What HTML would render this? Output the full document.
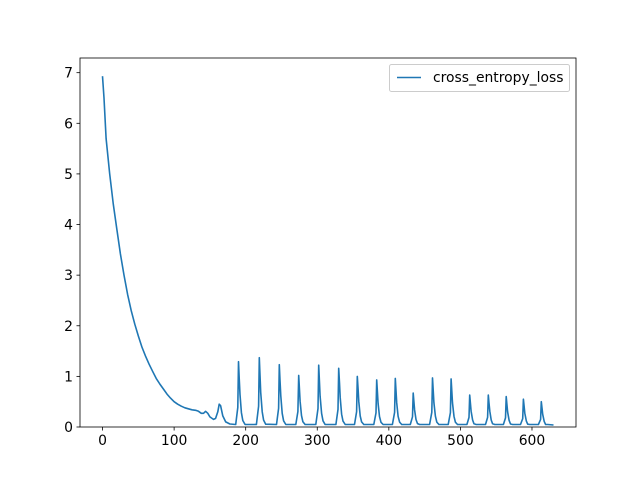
<!DOCTYPE html>
<html><head><meta charset="utf-8"><style>
body{margin:0;background:#fff}
svg text{font-family:"DejaVu Sans","Liberation Sans",sans-serif;font-size:13.9px;fill:#000}
</style></head><body>
<svg width="640" height="480" xmlns="http://www.w3.org/2000/svg">
<rect width="640" height="480" fill="#fff"/>
<g id="plot"></g>
<g id="axes"></g>
</svg>
<script>
const decayX=[0,2,5,10,15,20,25,30,35,40,45,50,55,60,65,70,75,80,85,90,95,100,105,110,115,120,125,130,134,138,141,144,147,150,155,158,161,163,165,168,172,178,186];
const decayY=[6.93,6.5,5.7,5.0,4.4,3.9,3.42,3.0,2.62,2.3,2.03,1.8,1.58,1.4,1.24,1.1,0.96,0.85,0.75,0.65,0.57,0.5,0.45,0.41,0.38,0.36,0.34,0.33,0.31,0.27,0.27,0.31,0.27,0.2,0.15,0.17,0.3,0.45,0.42,0.22,0.1,0.06,0.05];
const peakX=[190,219,247,274,302,330,356,383,409,434,461,487,513,539,564,588,613];
const peakY=[1.29,1.37,1.23,1.02,1.22,1.16,1.0,0.93,0.96,0.67,0.97,0.95,0.63,0.63,0.6,0.55,0.5];
const endX=630, endY=0.04;
const xTicks=[0,100,200,300,400,500,600];
const yTicks=[0,1,2,3,4,5,6,7];
const L=80,R=576,T=58,B=427,xmin=-31.5,xmax=661.5,ymin=0,ymax=7.29;
const sx=v=>L+(v-xmin)/(xmax-xmin)*(R-L);
const sy=v=>B-(v-ymin)/(ymax-ymin)*(B-T);
const NS="http://www.w3.org/2000/svg";
function mk(t,a,p){const e=document.createElementNS(NS,t);for(const k in a)e.setAttribute(k,a[k]);p.appendChild(e);return e;}
const plot=document.getElementById('plot'),axes=document.getElementById('axes');
let pts=[];
decayX.forEach((x,i)=>pts.push([x,decayY[i]]));
const offs=[-4,-1,0,1,2,4,6,9],fr=[0.03,0.3,1,0.75,0.5,0.22,0.1,0.04];
peakX.forEach((px,i)=>{offs.forEach((o,j)=>{pts.push([px+o,Math.max(0.05,peakY[i]*fr[j])]);});});
pts.push([endX,endY]);
pts.sort((a,b)=>a[0]-b[0]);
const cp=mk('clipPath',{id:'cp'},plot);mk('rect',{x:L,y:T,width:R-L,height:B-T},cp);
const line=mk('polyline',{points:pts.map(p=>sx(p[0]).toFixed(1)+','+sy(p[1]).toFixed(1)).join(' '),fill:'none',stroke:'#1f77b4','stroke-width':1.6,'stroke-linejoin':'round','clip-path':'url(#cp)'},plot);


const frame=mk('rect',{x:L,y:T,width:R-L,height:B-T,fill:'none',stroke:'#000','stroke-width':0.8},axes);


xTicks.forEach(v=>{const x=sx(v);mk('line',{x1:x,x2:x,y1:B,y2:B+3.5,stroke:'#000','stroke-width':0.8},axes);
const t=mk('text',{x:x,y:B+18,'text-anchor':'middle'},axes);t.textContent=v;

});
yTicks.forEach(v=>{const y=sy(v);mk('line',{x1:L-3.5,x2:L,y1:y,y2:y,stroke:'#000','stroke-width':0.8},axes);
const t=mk('text',{x:L-7,y:y+5,'text-anchor':'end'},axes);t.textContent=v;

});
const lg=mk('g',{},axes);


mk('rect',{x:389.5,y:64.5,width:180,height:27,rx:2,fill:'#fff',stroke:'#ccc','stroke-width':1},lg);
mk('line',{x1:397,x2:421,y1:77.5,y2:77.5,stroke:'#1f77b4','stroke-width':1.5},lg);
const lt=mk('text',{x:433,y:82},lg);lt.textContent='cross_entropy_loss';


</script>
</body></html>
